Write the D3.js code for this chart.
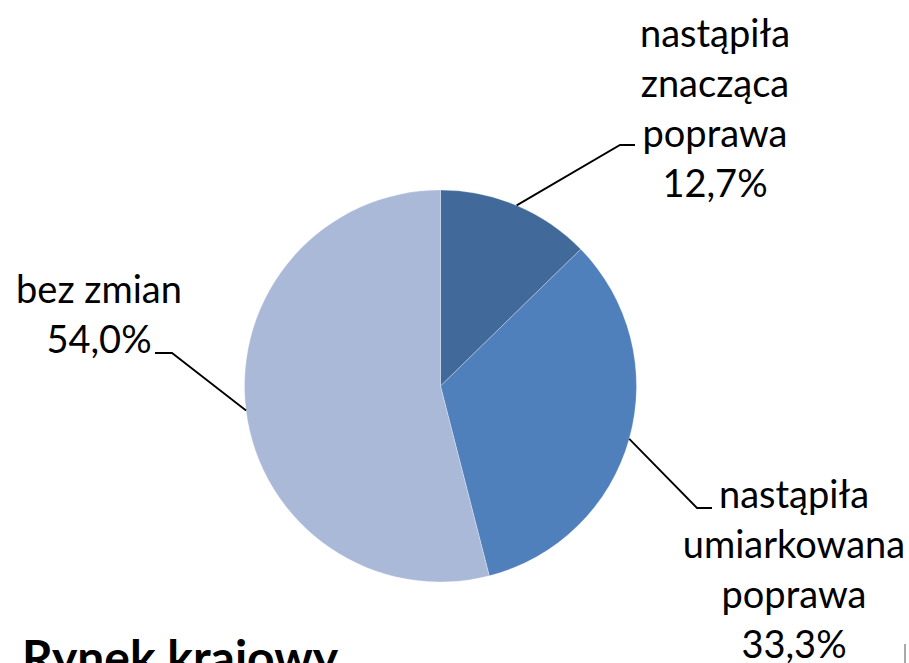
<!DOCTYPE html>
<html>
<head>
<meta charset="utf-8">
<script src="https://cdn.jsdelivr.net/npm/d3@7"></script>
<style>
  html, body { margin: 0; padding: 0; background: #ffffff; overflow: hidden; }
  svg { display: block; }
</style>
</head>
<body>
<svg id="chart" width="909" height="663"></svg>
<script>
// Survey answers, clockwise from 12 o'clock
const categories = ["nastąpiła znacząca poprawa", "nastąpiła umiarkowana poprawa", "bez zmian"];
const labelLines = [
  ["nastąpiła", "znacząca", "poprawa"],
  ["nastąpiła", "umiarkowana", "poprawa"],
  ["bez zmian"]
];
const values = [12.7, 33.3, 54.0];
const colors = ["#41699a", "#4f80bc", "#aab9d8"];

const fmt = v => d3.format(".1f")(v).replace(".", ",") + "%";

const W = 909, H = 663;
const cx = 440.5, cy = 386, R = 196;
const FONT = "Lato, 'Open Sans', sans-serif";
const FS = 38, LH = 50;

// Label placement: text centre x, first baseline y, elbow point and line end
const labelLayout = [
  { x: 715, y: 47,  elbow: [620, 145], end: [635, 145] },
  { x: 794, y: 508, elbow: [697, 508], end: [712, 508] },
  { x: 99,  y: 303, elbow: [172, 353], end: [155, 353] }
];

const svg = d3.select("#chart");

const pie = d3.pie().sort(null).value(d => d)
  .startAngle(0).endAngle(2 * Math.PI);
const arcs = pie(values);
const arc = d3.arc().innerRadius(0).outerRadius(R);

const g = svg.append("g").attr("transform", `translate(${cx},${cy})`);
g.selectAll("path.slice")
  .data(arcs)
  .join("path")
  .attr("class", "slice")
  .attr("d", arc)
  .attr("fill", (d, i) => colors[i])
  .attr("stroke", "rgba(255,255,255,0.35)")
  .attr("stroke-width", 0.8);

// Leader lines from the middle of each slice's rim
arcs.forEach((a, i) => {
  const mid = (a.startAngle + a.endAngle) / 2;
  const sx = cx + R * Math.sin(mid);
  const sy = cy - R * Math.cos(mid);
  const L = labelLayout[i];
  svg.append("path")
    .attr("d", d3.line()([[sx, sy], L.elbow, L.end]))
    .attr("fill", "none")
    .attr("stroke", "#000")
    .attr("stroke-width", 1.8);
});

// Category labels with their shares
arcs.forEach((a, i) => {
  const L = labelLayout[i];
  const lines = labelLines[i].concat([fmt(values[i])]);
  const t = svg.append("text")
    .attr("font-family", FONT)
    .attr("font-size", FS)
    .attr("fill", "#000")
    .attr("text-anchor", "middle");
  lines.forEach((s, k) => {
    t.append("tspan").attr("x", L.x).attr("y", L.y + k * LH).text(s);
  });
});

// Panel heading below the chart
svg.append("text")
  .attr("x", 22).attr("y", 675)
  .attr("font-family", FONT)
  .attr("font-weight", "bold")
  .attr("font-size", 48)
  .attr("fill", "#000")
  .text("Rynek krajowy");

// Edge of the neighbouring panel
svg.append("line")
  .attr("x1", 905).attr("x2", 905)
  .attr("y1", 644).attr("y2", 663)
  .attr("stroke", "#8c8c8c")
  .attr("stroke-width", 1.5);
</script>
</body>
</html>
